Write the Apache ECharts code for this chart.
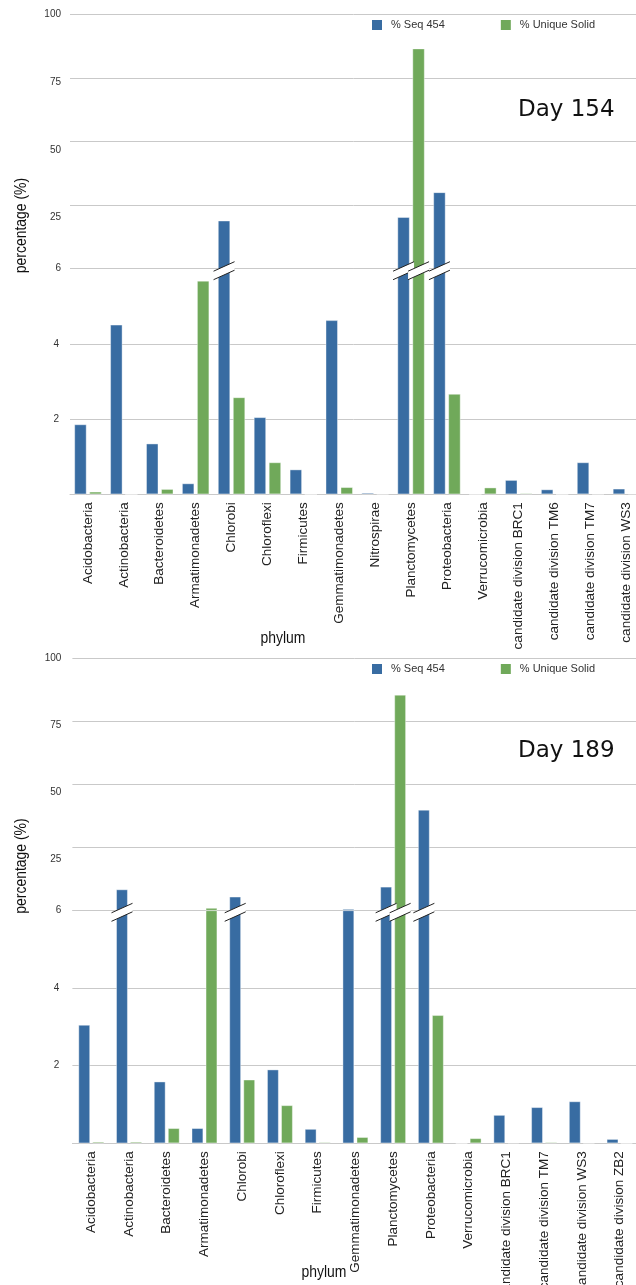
<!DOCTYPE html>
<html><head><meta charset="utf-8">
<script src="https://cdn.jsdelivr.net/npm/echarts@6/dist/echarts.min.js"></script>
<style>html,body{margin:0;padding:0;background:#fff}#c{width:636px;height:1285px}</style>
</head><body><div id="c"></div>
<script>
// ---- data ----
const phyla154 = ['Acidobacteria','Actinobacteria','Bacteroidetes','Armatimonadetes','Chlorobi','Chloroflexi','Firmicutes','Gemmatimonadetes','Nitrospirae','Planctomycetes','Proteobacteria','Verrucomicrobia','candidate division BRC1','candidate division TM6','candidate division TM7','candidate division WS3'];
const seq454_154 = [1.86, 4.51, 1.35, 0.29, 23.8, 2.05, 0.66, 4.63, 0.04, 25.1, 34.3, 0, 0.38, 0.13, 0.85, 0.15];
const solid_154  = [0.07, 0, 0.14, 5.68, 2.58, 0.85, 0, 0.19, 0.01, 87.5, 2.67, 0.18, 0.03, 0, 0.01, 0.02];

const phyla189 = ['Acidobacteria','Actinobacteria','Bacteroidetes','Armatimonadetes','Chlorobi','Chloroflexi','Firmicutes','Gemmatimonadetes','Planctomycetes','Proteobacteria','Verrucomicrobia','candidate division BRC1','candidate division TM7','candidate division WS3','candidate division ZB2'];
const seq454_189 = [3.05, 13.8, 1.59, 0.39, 11.1, 1.9, 0.37, 6.5, 14.8, 43.5, 0, 0.73, 0.93, 1.08, 0.11];
const solid_189  = [0.04, 0.04, 0.39, 6.9, 1.64, 0.98, 0.03, 0.16, 86.4, 3.3, 0.13, 0.02, 0.03, 0.01, 0];

const upperTickLabels = [6, 25, 50, 75, 100];
const lowerTickLabels = [2, 4];
const SPLIT = 6;        // value where the axis is broken
const BREAK_MIN = 10;   // bars above this get the break mark

const BLUE = '#386ca2', GREEN = '#70a95a', GRIDC = '#c9c9c9';
const FONT = "'Liberation Sans', Arial, sans-serif";

const panels = [
  {cats: phyla154, seq: seq454_154, solid: solid_154, left: 70, width: 574.4, upTop: 14.7, upH: 254, lowH: 225.6,
   barW: 12.3, gap: '22%', gapPx: 2.7, day: 'Day 154', dayY: 110, legendTop: 19.5, ytitleY: 225.5,
   phylumX: 283, phylumY: 638, labelMargin: 9},
  {cats: phyla189, seq: seq454_189, solid: solid_189, left: 72.4, width: 566, upTop: 658.3, upH: 252, lowH: 233,
   barW: 11.7, gap: '20%', gapPx: 2.3, day: 'Day 189', dayY: 751, legendTop: 663.5, ytitleY: 866,
   phylumX: 324, phylumY: 1272, labelMargin: 11}
];

const grid = [], xAxis = [], yAxis = [], series = [], legend = [], graphic = [];

panels.forEach((P, p) => {
  grid.push({left: P.left, width: P.width, top: P.upTop, height: P.upH, outerBoundsMode: 'none', containLabel: false});
  grid.push({left: P.left, width: P.width, top: P.upTop + P.upH, height: P.lowH, outerBoundsMode: 'none', containLabel: false});

  xAxis.push({type: 'category', gridIndex: 2*p, data: P.cats, show: false});
  xAxis.push({type: 'category', gridIndex: 2*p+1, data: P.cats,
    axisLine: {show: true, lineStyle: {color: GRIDC, width: 1}},
    axisTick: {show: false},
    axisLabel: {rotate: 90, interval: 0, margin: 8, fontSize: 13.5, color: '#222', fontFamily: FONT}});

  // upper grid: equally spaced gridlines
  yAxis.push({type: 'value', gridIndex: 2*p, position: 'left', min: 0, max: 100, interval: 25,
    axisLabel: {show: false}, axisLine: {show: false}, axisTick: {show: false},
    splitLine: {show: true, lineStyle: {color: GRIDC, width: 1}}});
  // upper grid: value axis 6..100 with labels
  yAxis.push({type: 'value', gridIndex: 2*p, position: 'left', offset: 0, min: SPLIT, max: 100,
    axisLine: {show: false}, axisTick: {show: false}, splitLine: {show: false},
    axisLabel: {customValues: upperTickLabels, margin: P.labelMargin, fontSize: 10, color: '#333', fontFamily: FONT}});
  // lower grid 0..6
  yAxis.push({type: 'value', gridIndex: 2*p+1, position: 'left', min: 0, max: SPLIT, interval: 2,
    axisLine: {show: false}, axisTick: {show: false},
    splitLine: {show: true, lineStyle: {color: GRIDC, width: 1}},
    axisLabel: {customValues: lowerTickLabels, margin: P.labelMargin + 2, fontSize: 10, color: '#333', fontFamily: FONT}});

  const mk = (name, color, arr, upper) => ({
    type: 'bar', name, xAxisIndex: upper ? 2*p : 2*p+1, yAxisIndex: upper ? 3*p+1 : 3*p+2,
    data: arr.map(v => upper ? (v > SPLIT ? v : null) : Math.min(v, SPLIT)),
    barWidth: P.barW, barGap: P.gap, clip: true, silent: true,
    itemStyle: {color, borderColor: 'rgba(255,255,255,0.5)', borderWidth: 0.8}
  });
  series.push(mk('% Seq 454', BLUE, P.seq, false));
  series.push(mk('% Unique Solid', GREEN, P.solid, false));
  series.push(mk('% Seq 454', BLUE, P.seq, true));
  series.push(mk('% Unique Solid', GREEN, P.solid, true));

  const breaks = [];
  P.cats.forEach((c, i) => {
    if (P.seq[i] > BREAK_MIN) breaks.push([i, 0]);
    if (P.solid[i] > BREAK_MIN) breaks.push([i, 1]);
  });
  series.push({
    type: 'custom', xAxisIndex: 2*p+1, yAxisIndex: 3*p+2, z: 10, silent: true,
    data: breaks,
    renderItem: (params, api) => {
      const cat = api.value(0), s = api.value(1);
      const pt = api.coord([cat, SPLIT]);
      const off = (s === 0 ? -1 : 1) * (P.barW + P.gapPx) / 2;
      const cx = pt[0] + off, cy = pt[1] + 2, w = 10.5;
      return {type: 'group', children: [
        {type: 'polygon', shape: {points: [[cx-w, cy+0.5], [cx+w, cy-9], [cx+w, cy-0.5], [cx-w, cy+9]]}, style: {fill: '#fff'}},
        {type: 'line', shape: {x1: cx-w, y1: cy+0.5, x2: cx+w, y2: cy-9}, style: {stroke: '#222', lineWidth: 1}},
        {type: 'line', shape: {x1: cx-w, y1: cy+9, x2: cx+w, y2: cy-0.5}, style: {stroke: '#222', lineWidth: 1}}
      ]};
    }
  });

  legend.push({top: P.legendTop, left: 372, padding: 0, itemWidth: 10, itemHeight: 10, itemGap: 56,
    icon: 'rect', data: ['% Seq 454', '% Unique Solid'],
    itemStyle: {borderWidth: 0},
    textStyle: {fontSize: 11, color: '#333', fontFamily: FONT, padding: [0, 0, 0, 4]}});

  graphic.push({type: 'text', x: 518, y: P.dayY, silent: true,
    style: {text: P.day, fill: '#111', font: "23px 'DejaVu Sans', Verdana, sans-serif", align: 'left', verticalAlign: 'middle'}});
  graphic.push({type: 'text', x: 21, y: P.ytitleY, rotation: Math.PI/2, scaleX: 0.82, silent: true,
    style: {text: 'percentage (%)', fill: '#111', font: "17px 'Liberation Sans', sans-serif", align: 'center', verticalAlign: 'middle'}});
  graphic.push({type: 'text', x: P.phylumX, y: P.phylumY, scaleX: 0.82, silent: true,
    style: {text: 'phylum', fill: '#111', font: "17px 'Liberation Sans', sans-serif", align: 'center', verticalAlign: 'middle'}});
});

const chart = echarts.init(document.getElementById('c'), null, {renderer: 'canvas'});
chart.setOption({animation: false, backgroundColor: '#fff', grid, xAxis, yAxis, series, legend, graphic});
</script>
</body></html>
